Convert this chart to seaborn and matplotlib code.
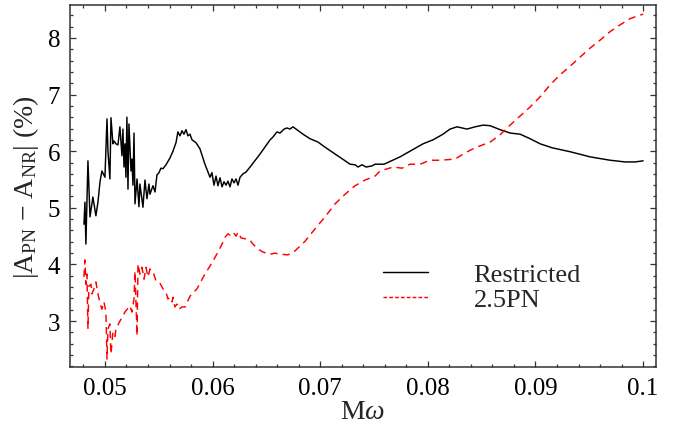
import numpy as np
import pandas as pd
import matplotlib
matplotlib.use('Agg')
import matplotlib.pyplot as plt
from matplotlib.ticker import MultipleLocator
import seaborn as sns

# values
restricted_x = [0.04805, 0.04814, 0.04823, 0.04842, 0.04861, 0.04888, 0.04916, 0.04935, 0.04954, 0.04972,
                0.05000, 0.05019, 0.05028, 0.05046, 0.05056, 0.05074, 0.05084, 0.05102, 0.05121, 0.05139,
                0.05158, 0.05167, 0.05177, 0.05186, 0.05195, 0.05204, 0.05214, 0.05223, 0.05242, 0.05251,
                0.05260, 0.05270, 0.05279, 0.05298, 0.05316, 0.05325, 0.05353, 0.05372, 0.05390, 0.05409,
                0.05418, 0.05446, 0.05465, 0.05483, 0.05502, 0.05520, 0.05539, 0.05567, 0.05604, 0.05632,
                0.05660, 0.05678, 0.05697, 0.05716, 0.05734, 0.05753, 0.05771, 0.05790, 0.05809, 0.05846,
                0.05883, 0.05929, 0.05976, 0.05994, 0.06013, 0.06032, 0.06050, 0.06069, 0.06088, 0.06106,
                0.06125, 0.06143, 0.06162, 0.06180, 0.06199, 0.06218, 0.06236, 0.06255, 0.06283, 0.06310,
                0.06348, 0.06441, 0.06534, 0.06561, 0.06598, 0.06626, 0.06664, 0.06691, 0.06719, 0.06747,
                0.06812, 0.06840, 0.06905, 0.06980, 0.07045, 0.07138, 0.07231, 0.07278, 0.07324, 0.07351,
                0.07389, 0.07426, 0.07481, 0.07509, 0.07593, 0.07742, 0.07834, 0.07955, 0.08048, 0.08141,
                0.08206, 0.08271, 0.08364, 0.08439, 0.08513, 0.08578, 0.08671, 0.08764, 0.08857, 0.08950,
                0.09043, 0.09154, 0.09322, 0.09507, 0.09693, 0.09833, 0.09926, 0.10000]
restricted_y = [4.71, 5.10, 4.36, 5.83, 4.84, 5.19, 4.86, 5.10, 5.46, 5.65,
                5.54, 6.57, 6.00, 5.51, 6.59, 6.13, 6.18, 6.13, 6.11, 6.43,
                5.92, 6.39, 5.72, 6.13, 5.54, 6.60, 5.33, 6.48, 5.65, 5.86,
                5.40, 6.32, 5.07, 5.51, 5.02, 5.42, 5.01, 5.49, 5.16, 5.42,
                5.24, 5.39, 5.28, 5.58, 5.62, 5.70, 5.69, 5.76, 5.88, 6.00,
                6.15, 6.34, 6.27, 6.36, 6.30, 6.38, 6.27, 6.30, 6.20, 6.15,
                6.04, 5.77, 5.54, 5.62, 5.40, 5.56, 5.39, 5.53, 5.37, 5.46,
                5.40, 5.47, 5.37, 5.51, 5.44, 5.51, 5.40, 5.54, 5.60, 5.63,
                5.72, 5.95, 6.20, 6.25, 6.34, 6.32, 6.39, 6.41, 6.39, 6.43,
                6.34, 6.30, 6.22, 6.16, 6.07, 5.95, 5.83, 5.77, 5.76, 5.72,
                5.76, 5.72, 5.74, 5.77, 5.77, 5.90, 6.00, 6.13, 6.20, 6.30,
                6.39, 6.43, 6.39, 6.43, 6.46, 6.45, 6.38, 6.32, 6.30, 6.22,
                6.13, 6.06, 5.99, 5.90, 5.84, 5.81, 5.81, 5.83]

pn_x = [0.04805, 0.04814, 0.04823, 0.04833, 0.04842, 0.04851, 0.04870, 0.04879, 0.04898, 0.04916,
        0.04935, 0.04954, 0.04972, 0.04991, 0.05009, 0.05019, 0.05028, 0.05046, 0.05056, 0.05074,
        0.05093, 0.05102, 0.05139, 0.05186, 0.05232, 0.05251, 0.05270, 0.05279, 0.05298, 0.05307,
        0.05325, 0.05344, 0.05363, 0.05381, 0.05400, 0.05418, 0.05446, 0.05474, 0.05511, 0.05539,
        0.05567, 0.05585, 0.05604, 0.05623, 0.05632, 0.05650, 0.05669, 0.05688, 0.05716, 0.05744,
        0.05790, 0.05855, 0.05929, 0.06004, 0.06050, 0.06088, 0.06115, 0.06143, 0.06162, 0.06190,
        0.06218, 0.06236, 0.06264, 0.06310, 0.06348, 0.06375, 0.06422, 0.06468, 0.06534, 0.06580,
        0.06626, 0.06701, 0.06766, 0.06859, 0.06952, 0.07045, 0.07138, 0.07231, 0.07324, 0.07416,
        0.07509, 0.07556, 0.07677, 0.07760, 0.07834, 0.07928, 0.08020, 0.08113, 0.08253, 0.08346,
        0.08439, 0.08578, 0.08671, 0.08764, 0.08857, 0.08950, 0.09043, 0.09136, 0.09229, 0.09322,
        0.09414, 0.09507, 0.09600, 0.09693, 0.09786, 0.09879, 0.10000]
pn_y = [3.78, 4.08, 3.65, 3.83, 2.86, 3.62, 3.65, 3.48, 3.57, 3.69,
        3.48, 3.32, 3.21, 3.34, 3.16, 2.33, 2.86, 2.95, 2.42, 2.81,
        2.73, 2.86, 3.00, 3.16, 3.27, 3.16, 3.39, 3.88, 2.74, 4.01,
        3.83, 3.95, 3.74, 3.95, 3.78, 3.92, 3.88, 3.71, 3.67, 3.57,
        3.51, 3.39, 3.42, 3.34, 3.42, 3.25, 3.30, 3.21, 3.25, 3.25,
        3.44, 3.57, 3.83, 4.06, 4.22, 4.36, 4.48, 4.54, 4.52, 4.57,
        4.50, 4.57, 4.47, 4.45, 4.43, 4.36, 4.27, 4.22, 4.18, 4.20,
        4.18, 4.17, 4.24, 4.41, 4.63, 4.84, 5.07, 5.24, 5.39, 5.49,
        5.56, 5.65, 5.72, 5.70, 5.77, 5.77, 5.84, 5.84, 5.86, 5.97,
        6.06, 6.16, 6.29, 6.46, 6.62, 6.78, 6.96, 7.17, 7.35, 7.50,
        7.66, 7.82, 7.96, 8.11, 8.23, 8.34, 8.42]

sns.set_style('ticks')
plt.rcParams['font.family'] = ['Liberation Serif', 'DejaVu Serif']
plt.rcParams['mathtext.fontset'] = 'custom'
plt.rcParams['mathtext.rm'] = 'Liberation Serif'
plt.rcParams['mathtext.it'] = 'Liberation Serif:italic'

fig = plt.figure(figsize=(6.78, 4.31), dpi=100)
ax = fig.add_axes([0.1032, 0.1462, 0.8644, 0.8398])

restricted = pd.DataFrame({'x': restricted_x, 'y': restricted_y})
pn = pd.DataFrame({'x': pn_x, 'y': pn_y})

sns.lineplot(data=restricted, x='x', y='y', color='black', linewidth=1.05,
             estimator=None, sort=False, label='Restricted', ax=ax)
sns.lineplot(data=pn, x='x', y='y', color='red', linewidth=1.05, linestyle='--',
             estimator=None, sort=False, label='2.5PN', ax=ax)
ax.lines[1].set_dashes((5, 3.5))

ax.set_xlim(0.04675, 0.1012)
ax.set_ylim(2.19, 8.58)
ax.xaxis.set_major_locator(MultipleLocator(0.01))
ax.xaxis.set_minor_locator(MultipleLocator(0.002))
ax.yaxis.set_major_locator(MultipleLocator(1))
ax.yaxis.set_minor_locator(MultipleLocator(0.2))
ax.set_xticks([0.05, 0.06, 0.07, 0.08, 0.09, 0.1])
ax.set_xticklabels(['0.05', '0.06', '0.07', '0.08', '0.09', '0.1'])

ax.tick_params(which='both', direction='in', top=True, right=True, labelsize=18, colors='#333333',
               labelcolor='black', width=0.9)
ax.tick_params(which='major', length=4, pad=7)
ax.tick_params(which='minor', length=2.2)
for s in ax.spines.values():
    s.set_linewidth(1.1)
    s.set_color('#333333')

ax.set_xlabel(r'M$\omega$', fontsize=20, labelpad=0)
ax.set_ylabel(r'|A$_{\mathrm{PN}}$ − A$_{\mathrm{NR}}$| (%)', fontsize=20, labelpad=5)

leg = ax.legend(loc='upper left', bbox_to_anchor=(0.493, 0.353), frameon=False, fontsize=19,
                handlelength=1.7, handletextpad=1.75, labelspacing=0.05)
leg.get_lines()[1].set_dashes((2.5, 1.5))

fig.savefig('out.png', dpi=100)
